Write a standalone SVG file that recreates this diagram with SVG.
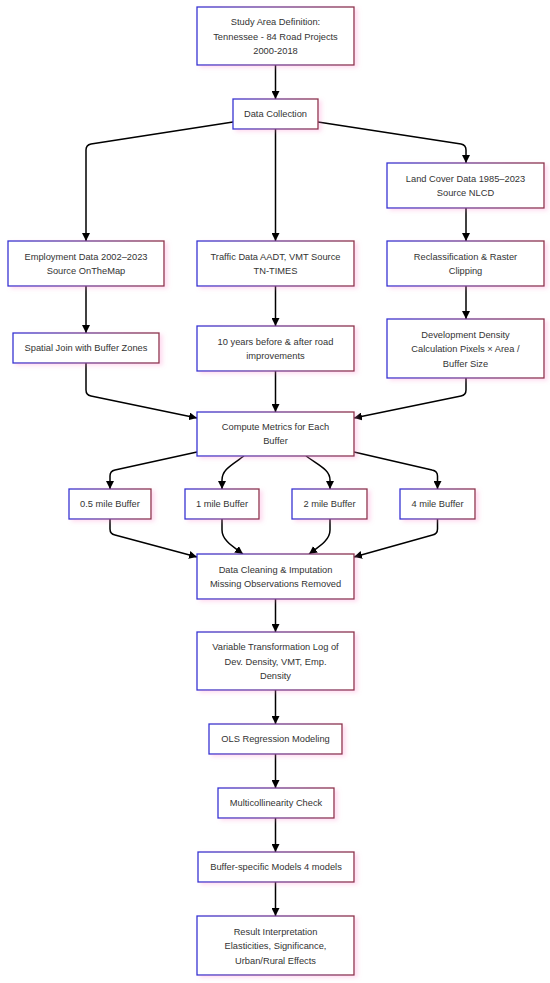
<svg xmlns="http://www.w3.org/2000/svg" width="550" height="983" viewBox="0 0 550 983">
<defs>
<linearGradient id="bd" x1="0" y1="0" x2="1" y2="0">
<stop offset="0" stop-color="#3434d2"/>
<stop offset="0.45" stop-color="#6a3a96"/>
<stop offset="1" stop-color="#8c3349"/>
</linearGradient>
<filter id="glow" x="-10%" y="-20%" width="125%" height="150%">
<feDropShadow dx="3" dy="2" stdDeviation="2" flood-color="#ff88cc" flood-opacity="0.3"/>
</filter>
<marker id="ah" viewBox="0 0 10 10" refX="10" refY="5" markerUnits="userSpaceOnUse" markerWidth="8" markerHeight="8" orient="auto">
<path d="M0,0 L10,5 L0,10 z" fill="#000"/>
</marker>
</defs>
<style>
.n rect{fill:#fff;stroke:url(#bd);stroke-width:1.3;filter:url(#glow)}
.n text{font-family:"Liberation Sans",Arial,sans-serif;font-size:9.3px;fill:#333;text-anchor:middle}
#edges path{fill:none;stroke:#000;stroke-width:1.5;marker-end:url(#ah)}
</style>
<rect width="550" height="983" fill="#fff"/>
<g id="edges">
<path d="M275.5,65 L275.5,99"/>
<path d="M233,122 L91,144 Q86,145 86,150 L86,241"/>
<path d="M275.5,129 L275.5,241"/>
<path d="M318,122 L461,144 Q466,145 466,150 L466,163"/>
<path d="M86,286 L86,333"/>
<path d="M275.5,286 L275.5,326"/>
<path d="M466,208 L466,241"/>
<path d="M466,286 L466,319"/>
<path d="M86,363 L86,390 Q86,395 91,396 L197,418"/>
<path d="M275.5,371 L275.5,412"/>
<path d="M466,378 L466,390 Q466,395 461,396 L354,418"/>
<path d="M197,452 L115,470 Q110,471 110,476 L110,489"/>
<path d="M244,456 C230,466 222,470 222,480 L222,489"/>
<path d="M306,456 C320,466 330,470 330,480 L330,489"/>
<path d="M354,452 L432,470 Q437.5,471 437.5,476 L437.5,489"/>
<path d="M110,519 L110,529 Q110,534 115,535 L197,557"/>
<path d="M222,519 L222,530 C222,540 232,546 243,554"/>
<path d="M330,519 L330,530 C330,540 320,546 309,554"/>
<path d="M437.5,519 L437.5,529 Q437.5,534 432.5,535 L354,557"/>
<path d="M275.5,599 L275.5,632"/>
<path d="M275.5,690 L275.5,724"/>
<path d="M275.5,754 L275.5,788"/>
<path d="M275.5,818 L275.5,852"/>
<path d="M275.5,882 L275.5,916"/>
</g>
<g id="n1" class="n"><rect x="197" y="7" width="157" height="58"/><text x="275.5" y="25">Study Area Definition:</text><text x="275.5" y="39.5">Tennessee - 84 Road Projects</text><text x="275.5" y="54">2000-2018</text></g>
<g id="n2" class="n"><rect x="233" y="99" width="85" height="30"/><text x="275.5" y="117.3">Data Collection</text></g>
<g id="n3" class="n"><rect x="387" y="163" width="157" height="45"/><text x="465.5" y="181.5">Land Cover Data 1985–2023</text><text x="465.5" y="195.8">Source NLCD</text></g>
<g id="n4" class="n"><rect x="8" y="241" width="156" height="45"/><text x="86" y="259.5">Employment Data 2002–2023</text><text x="86" y="273.8">Source OnTheMap</text></g>
<g id="n5" class="n"><rect x="197" y="241" width="157" height="45"/><text x="275.5" y="259.5">Traffic Data AADT, VMT Source</text><text x="275.5" y="273.8">TN-TIMES</text></g>
<g id="n6" class="n"><rect x="387" y="241" width="157" height="45"/><text x="465.5" y="259.5">Reclassification &amp; Raster</text><text x="465.5" y="273.8">Clipping</text></g>
<g id="n7" class="n"><rect x="13" y="333" width="146" height="30"/><text x="86" y="351.3">Spatial Join with Buffer Zones</text></g>
<g id="n8" class="n"><rect x="197" y="326" width="157" height="45"/><text x="275.5" y="344.5">10 years before &amp; after road</text><text x="275.5" y="358.8">improvements</text></g>
<g id="n9" class="n"><rect x="387" y="319" width="157" height="59"/><text x="465.5" y="337.5">Development Density</text><text x="465.5" y="352">Calculation Pixels × Area /</text><text x="465.5" y="366.5">Buffer Size</text></g>
<g id="n10" class="n"><rect x="197" y="412" width="157" height="44"/><text x="275.5" y="430">Compute Metrics for Each</text><text x="275.5" y="444.3">Buffer</text></g>
<g id="n11" class="n"><rect x="69" y="489" width="82" height="30"/><text x="110" y="507.3">0.5 mile Buffer</text></g>
<g id="n12" class="n"><rect x="185" y="489" width="74" height="30"/><text x="222" y="507.3">1 mile Buffer</text></g>
<g id="n13" class="n"><rect x="292" y="489" width="75" height="30"/><text x="329.5" y="507.3">2 mile Buffer</text></g>
<g id="n14" class="n"><rect x="400" y="489" width="75" height="30"/><text x="437.5" y="507.3">4 mile Buffer</text></g>
<g id="n15" class="n"><rect x="197" y="554" width="157" height="45"/><text x="275.5" y="572.5">Data Cleaning &amp; Imputation</text><text x="275.5" y="586.8">Missing Observations Removed</text></g>
<g id="n16" class="n"><rect x="197" y="632" width="157" height="58"/><text x="275.5" y="650">Variable Transformation Log of</text><text x="275.5" y="664.5">Dev. Density, VMT, Emp.</text><text x="275.5" y="679">Density</text></g>
<g id="n17" class="n"><rect x="209" y="724" width="133" height="30"/><text x="275.5" y="742.3">OLS Regression Modeling</text></g>
<g id="n18" class="n"><rect x="218" y="788" width="116" height="30"/><text x="276" y="806.3">Multicollinearity Check</text></g>
<g id="n19" class="n"><rect x="198" y="852" width="156" height="30"/><text x="276" y="870.3">Buffer-specific Models 4 models</text></g>
<g id="n20" class="n"><rect x="197" y="916" width="157" height="59"/><text x="275.5" y="934.5">Result Interpretation</text><text x="275.5" y="949">Elasticities, Significance,</text><text x="275.5" y="963.5">Urban/Rural Effects</text></g>
</svg>
